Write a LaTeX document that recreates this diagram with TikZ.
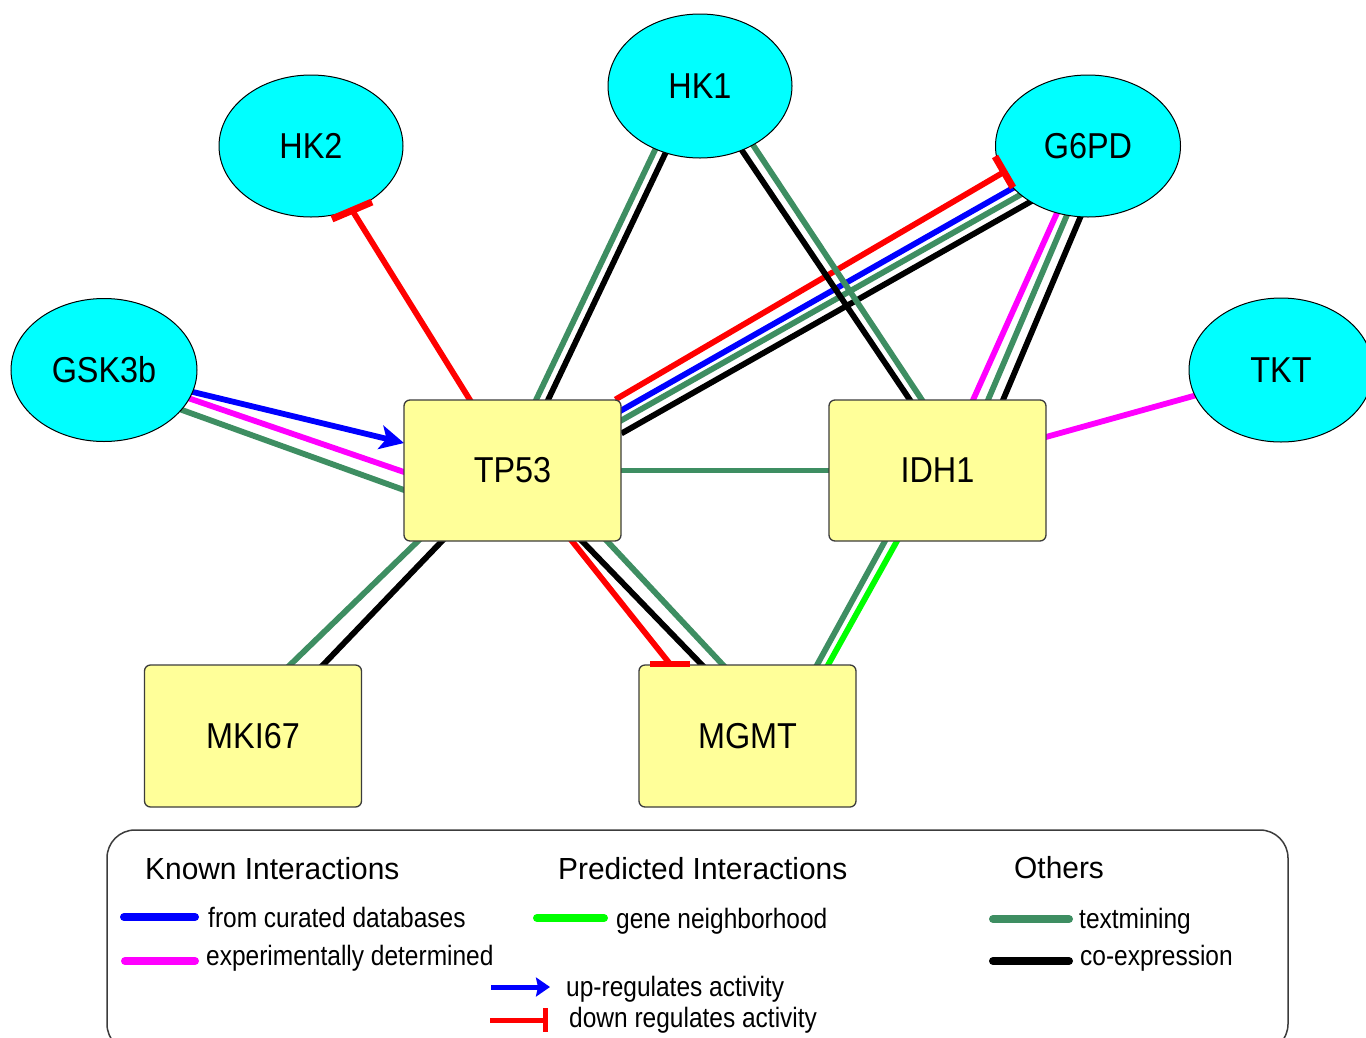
\documentclass[tikz,border=0pt]{standalone}
\usepackage{fontspec}
\setmainfont{Liberation Sans}
\newfontfamily\nodefam[FakeStretch=0.9]{Liberation Sans}
\newfontfamily\legfam[FakeStretch=0.875]{Liberation Sans}
\newfontfamily\headfam[FakeStretch=0.98]{Liberation Sans}
\newcommand{\mynodefont}{\nodefam\fontsize{36pt}{42pt}\selectfont}
\newcommand{\mylegfont}{\legfam\fontsize{28pt}{32pt}\selectfont}
\newcommand{\myheadfont}{\headfam\fontsize{30.5pt}{34pt}\selectfont}
\usetikzlibrary{shapes.geometric,arrows.meta,calc}
\definecolor{cyanc}{RGB}{0,255,255}
\definecolor{boxfill}{RGB}{255,255,153}
\definecolor{boxline}{RGB}{60,60,60}
\definecolor{tmgreen}{RGB}{62,142,98}
\definecolor{nbgreen}{RGB}{0,255,0}
\definecolor{curblue}{RGB}{0,0,255}
\definecolor{expmag}{RGB}{255,0,255}
\definecolor{inhred}{RGB}{255,0,0}
\pgfdeclarelayer{edgelayer}
\pgfsetlayers{edgelayer,main}
\tikzset{
  ell/.style={ellipse, draw=black, line width=1pt, fill=cyanc, minimum width=184pt,
    minimum height=142pt, inner sep=0pt, font=\mynodefont},
  gbox/.style={rectangle, rounded corners=6pt, draw=boxline, line width=1.3pt, fill=boxfill,
    minimum width=217pt, minimum height=141pt, inner sep=0pt, font=\mynodefont},
  eline/.style={line width=5.8pt, shorten <=-3pt, shorten >=-3pt},
  etm/.style={eline, draw=tmgreen},
  eco/.style={eline, draw=black},
  ecur/.style={eline, draw=curblue},
  eexp/.style={eline, draw=expmag},
  enb/.style={eline, draw=nbgreen},
  einh/.style={line width=5.8pt, draw=inhred, shorten <=-3pt},
  ebar/.style={line width=7pt, draw=inhred},
  lhead/.style={anchor=base west, inner sep=0pt, font=\myheadfont},
  litem/.style={anchor=base west, inner sep=0pt, font=\mylegfont},
  lline/.style={line width=8pt, line cap=round}
}
\begin{document}
\begin{tikzpicture}[x=1pt,y=-1pt]
\useasboundingbox (0,0) rectangle (1366,1037);

% nodes
\node[ell] (hk2) at (311,146) {HK2};
\node[ell, minimum height=144pt] (hk1) at (700,86) {HK1};
\node[ell, minimum width=185pt] (g6pd) at (1088,146) {G6PD};
\node[ell, minimum width=186pt, minimum height=143pt] (gsk) at (104,370) {GSK3b};
\node[ell, minimum height=144pt] (tkt) at (1281,370) {TKT};
\node[gbox] (tp53) at (512.5,470.5) {TP53};
\node[gbox] (idh1) at (937.5,470.5) {IDH1};
\node[gbox, minimum height=142pt] (mki67) at (253,736) {MKI67};
\node[gbox, minimum height=142pt] (mgmt) at (747.5,736) {MGMT};

\begin{pgfonlayer}{edgelayer}
\fill[white] (0,0) rectangle (1366,1037);
% HK2 - TP53
\draw[einh] ($(tp53.center)+(-42.5,-70.5)$) -- ($(hk2.center)+(41,64)$);
% HK1 - TP53
\draw[etm] ($(tp53.center)+(23.5,-70.5)$) -- ($(hk1.center)+(-45,64)$);
\draw[eco] ($(tp53.center)+(35.5,-70.5)$) -- ($(hk1.center)+(-34,66)$);
% G6PD - TP53
\draw[einh] ($(tp53.center)+(105.5,-72.5)$) -- ($(g6pd.center)+(-84,26)$);
\draw[ecur] ($(tp53.center)+(109.5,-60.5)$) -- ($(g6pd.center)+(-75,42)$);
\draw[etm] ($(tp53.center)+(109.5,-50.5)$) -- ($(g6pd.center)+(-68,49)$);
\draw[eco] ($(tp53.center)+(111.5,-38.5)$) -- ($(g6pd.center)+(-58,56)$);
% HK1 - IDH1
\draw[eco] ($(hk1.center)+(43,66)$) -- ($(idh1.center)+(-27.5,-70.5)$);
\draw[etm] ($(hk1.center)+(53,59)$) -- ($(idh1.center)+(-15.5,-70.5)$);
% G6PD - IDH1
\draw[eexp] ($(idh1.center)+(35.5,-70.5)$) -- ($(g6pd.center)+(-31,67)$);
\draw[etm] ($(idh1.center)+(50.5,-70.5)$) -- ($(g6pd.center)+(-21,69)$);
\draw[eco] ($(idh1.center)+(65.5,-70.5)$) -- ($(g6pd.center)+(-8,72)$);
% GSK3b - TP53
\draw[line width=5.8pt, draw=curblue, shorten <=-3pt, -{Stealth[length=24pt,width=24pt,inset=6pt]}]
  ($(gsk.center)+(89,22)$) -- ($(tp53.center)+(-108.5,-27.5)$);
\draw[eexp] ($(gsk.center)+(84,28)$) -- ($(tp53.center)+(-108.5,1.5)$);
\draw[etm] ($(gsk.center)+(78,40)$) -- ($(tp53.center)+(-108.5,19.5)$);
% TP53 - IDH1
\draw[etm] (tp53) -- (idh1);
% IDH1 - TKT
\draw[eexp] ($(idh1.center)+(108.5,-33.5)$) -- ($(tkt.center)+(-84,25)$);
% TP53 - MKI67
\draw[etm] ($(tp53.center)+(-94.5,70.5)$) -- ($(mki67.center)+(37,-71)$);
\draw[eco] ($(tp53.center)+(-70.5,70.5)$) -- ($(mki67.center)+(70,-71)$);
% TP53 - MGMT
\draw[einh] ($(tp53.center)+(59.5,70.5)$) -- ($(mgmt.center)+(-77.5,-72)$);
\draw[eco] ($(tp53.center)+(69.5,70.5)$) -- ($(mgmt.center)+(-45.5,-71)$);
\draw[etm] ($(tp53.center)+(94.5,70.5)$) -- ($(mgmt.center)+(-24.5,-71)$);
% IDH1 - MGMT
\draw[etm] ($(idh1.center)+(-52.5,70.5)$) -- ($(mgmt.center)+(69.5,-71)$);
\draw[enb] ($(idh1.center)+(-40.5,70.5)$) -- ($(mgmt.center)+(80.5,-71)$);
\end{pgfonlayer}

% inhibition bars
\draw[ebar] ($(hk2.center)+(21,73)$) -- ($(hk2.center)+(61,56)$);
\draw[ebar] ($(g6pd.center)+(-93,10.5)$) -- ($(g6pd.center)+(-75,41.5)$);
\draw[ebar, line width=6pt] ($(mgmt.center)+(-97.5,-72)$) -- ($(mgmt.center)+(-57.5,-72)$);

% legend
\draw[rounded corners=28pt, line width=1.5pt, draw=boxline] (107,830) rectangle (1288,1052);
\node[lhead] (lknown) at (145,879) {Known Interactions};
\node[lhead] (lpred) at (558,879) {Predicted Interactions};
\node[lhead] (loth) at (1014,878) {Others};

\draw[lline, draw=curblue] (124,917) -- (195,917);
\node[litem] (lcur) at (208,927) {from curated databases};
\draw[lline, draw=expmag] (125,961) -- (195,961);
\node[litem] (lexp) at (206,965) {experimentally determined};

\draw[lline, draw=nbgreen] (537,918) -- (604,918);
\node[litem] (lnb) at (616,928) {gene neighborhood};

\draw[line width=5pt, draw=curblue, -{Stealth[length=14pt,width=19pt,inset=2pt]}] (491,987) -- (550,987);
\node[litem] (lup) at (566,996) {up-regulates activity};
\draw[line width=5pt, draw=inhred] (490,1020) -- (545,1020);
\draw[line width=5pt, draw=inhred] (545.5,1008) -- (545.5,1032);
\node[litem] (ldown) at (569,1027) {down regulates activity};

\draw[lline, draw=tmgreen] (993,919) -- (1069,919);
\node[litem] (ltm) at (1079,928) {textmining};
\draw[lline, draw=black] (993,961) -- (1069,961);
\node[litem] (lco) at (1080,965) {co-expression};
\end{tikzpicture}
\end{document}
